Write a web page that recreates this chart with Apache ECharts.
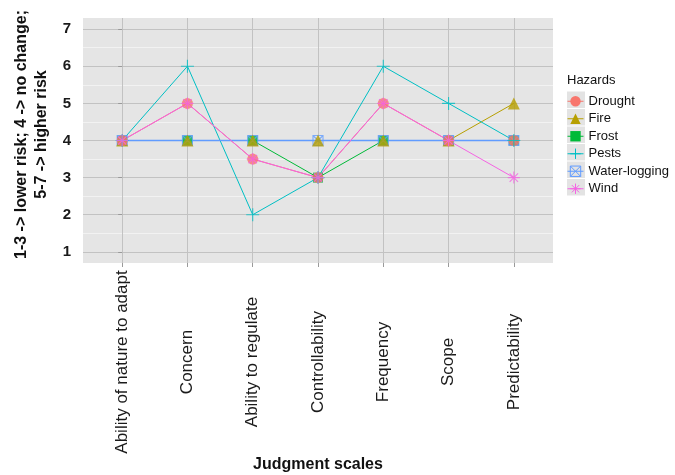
<!DOCTYPE html>
<html><head><meta charset="utf-8">
<script src="https://cdn.jsdelivr.net/npm/echarts@6/dist/echarts.min.js"></script>
<style>html,body{margin:0;padding:0;background:#fff}#c{width:675px;height:475px}</style>
</head><body><div id="c"></div>
<script>
// ---- data ----
const categories = ['Ability of nature to adapt', 'Concern', 'Ability to regulate', 'Controllability', 'Frequency', 'Scope', 'Predictability'];
const hazards = ['Drought', 'Fire', 'Frost', 'Pests', 'Water-logging', 'Wind'];
const drought = [4, 5, 3.5, 3, 5, 4, 4];
const fire = [4, 4, 4, 4, 4, 4, 5];
const frost = [4, 4, 4, 3, 4, 4, 4];
const pests = [4, 6, 2, 3, 6, 5, 4];
const waterLogging = [4, 4, 4, 4, 4, 4, 4];
const wind = [4, 5, 3.5, 3, 5, 4, 3];
const yTicks = [1, 2, 3, 4, 5, 6, 7];
const yMinorTicks = [1.5, 2.5, 3.5, 4.5, 5.5, 6.5];
const xTitle = 'Judgment scales';
const yTitle = '1-3 -> lower risk; 4 -> no change;\n5-7 -> higher risk';
const legendTitle = 'Hazards';

// ---- styles ----
const FONT = '"Liberation Sans", Arial, Helvetica, sans-serif';
const values = [drought, fire, frost, pests, waterLogging, wind];
const colors = ['#F8766D', '#B79F00', '#00BA38', '#00BFC4', '#619CFF', '#F564E3'];
const symbols = [
  'circle', 'triangle', 'rect',
  'path://M0,5 L10,5 M5,0 L5,10',
  'path://M0,0 L10,0 L10,10 L0,10 Z M0,0 L10,10 M10,0 L0,10',
  'path://M5,0 L5,10 M0,5 L10,5 M1.5,1.5 L8.5,8.5 M8.5,1.5 L1.5,8.5'
];
const filled = [true, true, true, false, false, false];
const sizes = [11, 12, 10, 13, 10, 12];
const drawOrder = [2, 4, 1, 0, 3, 5];

const xIdx = categories.map((c, i) => i);

const lineSeries = hazards.map((h, k) => ({
  name: h, type: 'line',
  data: values[k].map((v, i) => [i, v]),
  symbol: symbols[k], showSymbol: false, symbolSize: sizes[k],
  lineStyle: { color: colors[k], width: k === 4 ? 1.6 : 1 },
  itemStyle: filled[k] ? { color: colors[k] } : { color: 'none', borderColor: colors[k], borderWidth: 1 },
  z: 2, silent: true
}));
const pointSeries = drawOrder.map(k => ({
  name: hazards[k], type: 'scatter',
  data: values[k].map((v, i) => [i, v]),
  symbol: symbols[k], symbolSize: sizes[k],
  itemStyle: filled[k] ? { color: colors[k] } : { color: 'none', borderColor: colors[k], borderWidth: 1.1 },
  z: 3, silent: true
}));

const legendTop = 91, legendStep = 17.5, legendLeft = 567;
const keyBoxes = hazards.map((h, k) => ({
  id: 'key' + k, type: 'rect', x: legendLeft, y: legendTop + k * legendStep + 0.5,
  shape: { x: 0, y: 0, width: 18, height: 16.5 }, style: { fill: '#e3e3e3' }, z: 0
}));

const chart = echarts.init(document.getElementById('c'), null, { renderer: 'canvas' });
chart.setOption({
  animation: false,
  backgroundColor: '#ffffff',
  textStyle: { fontFamily: FONT },
  grid: { left: 83, top: 18, width: 470, height: 245, show: true, backgroundColor: '#e5e5e5', borderWidth: 0,
    containLabel: false, outerBoundsMode: 'none' },
  title: { text: legendTitle, left: legendLeft, top: 74, padding: 0,
    textStyle: { fontFamily: FONT, fontSize: 13, fontWeight: 'normal', color: '#111' } },
  legend: {
    orient: 'vertical', left: legendLeft, top: legendTop + 1.5, padding: 0,
    itemWidth: 16, itemHeight: 13, itemGap: 0, z: 5,
    textStyle: { fontFamily: FONT, fontSize: 13, color: '#111', lineHeight: legendStep },
    data: hazards.map((h, k) => ({
      name: h,
      itemStyle: filled[k] ? { color: colors[k], borderWidth: 0 } : { color: 'none', borderColor: colors[k], borderWidth: 1 },
      lineStyle: { color: colors[k], width: 1 }
    })),
    selectedMode: false
  },
  graphic: { elements: keyBoxes },
  xAxis: {
    type: 'value', min: -0.6, max: 6.6,
    name: xTitle, nameLocation: 'middle', nameGap: 194, nameMoveOverlap: false,
    nameTextStyle: { fontFamily: FONT, fontSize: 16, fontWeight: 'bold', color: '#111' },
    axisLine: { show: false },
    axisTick: { show: true, customValues: xIdx, length: 4, lineStyle: { color: '#9a9a9a' } },
    axisLabel: { customValues: xIdx, formatter: v => categories[Math.round(v)],
      rotate: 90, align: 'center', verticalAlign: 'middle', margin: 99,
      fontFamily: FONT, fontSize: 17, color: '#1a1a1a' },
    splitLine: { show: true, lineStyle: { color: '#c2c2c2', width: 1 } }
  },
  yAxis: [{
    type: 'value', min: 0.7, max: 7.3,
    name: yTitle, nameLocation: 'middle', nameGap: 31, nameRotate: 90,
    nameTextStyle: { fontFamily: FONT, fontSize: 16, fontWeight: 'bold', color: '#111', lineHeight: 20, align: 'center',
      padding: [0, 0, 0, 12] },
    axisLine: { show: false },
    axisTick: { show: true, customValues: yTicks, length: 4, lineStyle: { color: '#9a9a9a' } },
    axisLabel: { customValues: yTicks, margin: 12, fontFamily: FONT, fontSize: 15, fontWeight: 'bold', color: '#1a1a1a' },
    splitLine: { show: true, lineStyle: { color: '#c2c2c2', width: 1 } }
  }, {
    type: 'value', min: 0.7, max: 7.3, position: 'left',
    axisLine: { show: false },
    axisTick: { show: false, customValues: yMinorTicks },
    axisLabel: { show: false, customValues: yMinorTicks },
    splitLine: { show: true, lineStyle: { color: '#f2f2f2', width: 1 } }
  }],
  series: lineSeries.concat(pointSeries)
});
</script></body></html>
